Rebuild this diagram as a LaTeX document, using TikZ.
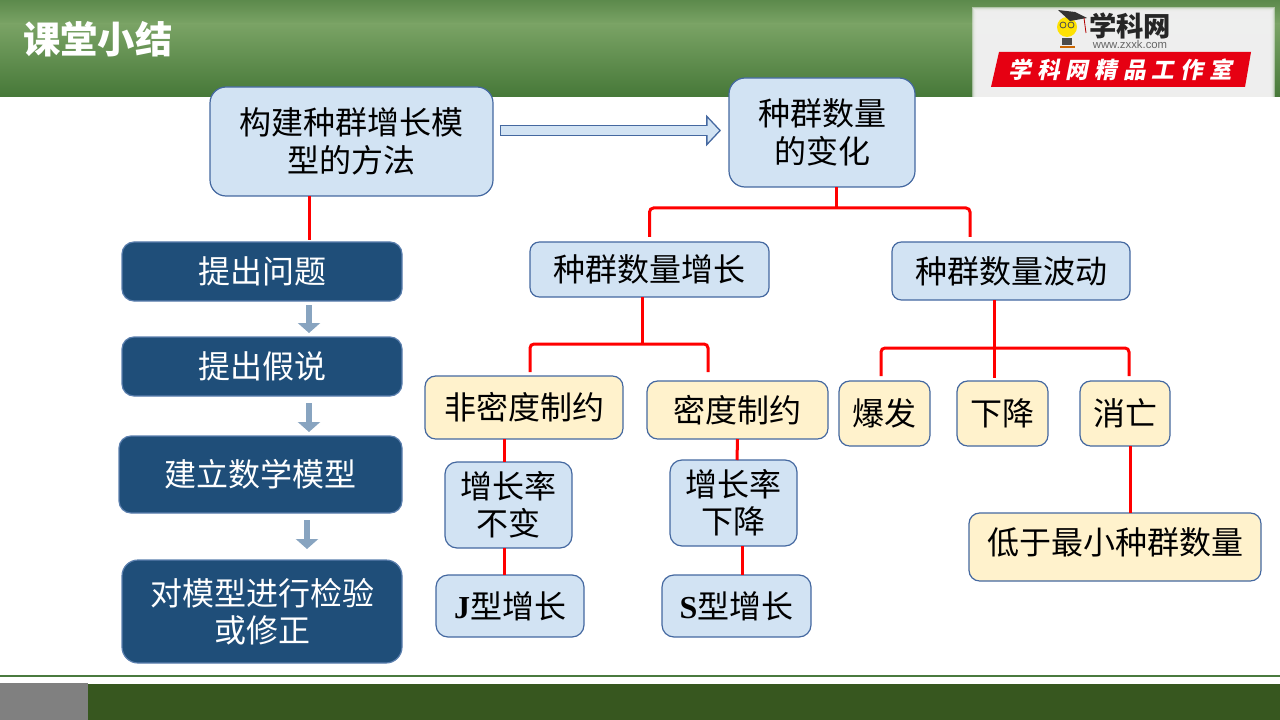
\documentclass[tikz,border=0pt]{standalone}
\usepackage{fontspec}
\setmainfont{Noto Sans CJK SC}
\newfontfamily\latinfont{Liberation Serif}
\newfontfamily\logofont{Liberation Sans}
\usetikzlibrary{arrows.meta}
\usetikzlibrary{positioning}
\definecolor{boxedge}{HTML}{4468A0}
\definecolor{bluefill}{HTML}{D2E3F3}
\definecolor{creamfill}{HTML}{FFF2CC}
\definecolor{darkfill}{HTML}{1F4E79}
\definecolor{darkedge}{HTML}{5B7FAE}
\definecolor{stepgray}{HTML}{88A4C0}
\definecolor{headtop}{HTML}{5C8A4C}
\definecolor{headmid}{HTML}{7AA365}
\definecolor{headlow}{HTML}{467838}
\definecolor{footgreen}{HTML}{37571F}
\definecolor{footline}{HTML}{4A7A3F}
\definecolor{logored}{HTML}{E60012}
\definecolor{logopaper}{HTML}{F0F0F0}

\begin{document}
\begin{tikzpicture}[x=0.75pt,y=-0.75pt,
    box/.style={draw=boxedge,line width=0.9pt,inner sep=0pt,outer sep=0pt,align=center,
      font=\fontsize{24pt}{28pt}\selectfont,text=black},
    bluebox/.style={box,fill=bluefill,rounded corners=9pt},
    creambox/.style={box,fill=creamfill,rounded corners=8pt},
    darkbox/.style={box,draw=darkedge,fill=darkfill,text=white,rounded corners=9pt},
    redline/.style={draw=red,line width=2.25pt},
    redbracket/.style={redline,rounded corners=3pt},
    stepline/.style={draw=stepgray,line width=5pt,
      -{Triangle[length=7.5pt,width=16.5pt]}},
    flowouter/.style={draw=boxedge,line width=8.6pt,
      -{Triangle[length=11.25pt,width=23.25pt]}},
    flowinner/.style={draw=bluefill,line width=6.4pt,shorten <=1.1pt,shorten >=1.5pt,
      -{Triangle[length=8.6pt,width=17.8pt]}}]

      \useasboundingbox (0,0) rectangle (1280,720);

      % header and footer
      \shade[top color=headtop,bottom color=headmid] (0,0) rectangle (1280,24);
      \shade[top color=headmid,bottom color=headlow] (0,24) rectangle (1280,97);
      \node (title) [anchor=west,inner sep=0pt,text=white,font=\fontsize{28pt}{30pt}\selectfont\bfseries] at (23,39) {课堂小结};
      \fill[footline] (0,675) rectangle (1280,677);
      \fill[footgreen] (88,684) rectangle (1280,720);
      \fill[gray] (0,683) rectangle (88,720);

      % logo
      \foreach \d in {0,1,2,3,4,5}
        \fill[logopaper,opacity=0.55] (972+\d,7+\d) rectangle (1275-\d,97);
      \fill[logored] (999,52) -- (1251,52) -- (1245,87) -- (991,87) -- cycle;
      \fill[yellow!85!orange] (1067,27) circle (10);
      \draw[black!70,line width=0.6pt] (1063,25) circle (3) (1071,25) circle (3);
      \fill[black!80] (1058,10) -- (1075,12) -- (1087,18) -- (1070,21) -- cycle;
      \draw[red!70!black,line width=0.6pt] (1084,18) -- (1086,33);
      \fill[black!70] (1062,38) rectangle (1072,45);
      \fill[orange!80!black] (1060,46) rectangle (1075,48);
      \node (logoname) [inner sep=0pt,text=black!85,font=\fontsize{20.5pt}{22pt}\selectfont\bfseries] at (1130,26) {学科网};
      \node (logourl) [inner sep=0pt,text=black!60,font=\logofont\fontsize{8.5pt}{9pt}\selectfont] at (1130,44) {www.zxxk.com};
      \node (logotext) [inner sep=0pt,text=white,xslant=0.2,transform shape,
        font=\fontsize{17pt}{18pt}\selectfont\bfseries] at (1122,70)
        {学\hspace{4.5pt}科\hspace{4.5pt}网\hspace{4.5pt}精\hspace{4.5pt}品\hspace{4.5pt}工\hspace{4.5pt}作\hspace{4.5pt}室};

      % left column
      \node (build) [bluebox,minimum width=212.25pt,minimum height=81.75pt,rounded corners=12pt] at (351.5,141.5) {构建种群增长模\\型的方法};
      \node (ask) [darkbox,minimum width=210pt,minimum height=44.25pt] at (262,271.5) {提出问题};
      \node (guess) [darkbox,minimum width=210pt,minimum height=44.25pt,below=27pt of ask] {提出假说};
      \node (model) [darkbox,minimum width=212.25pt,minimum height=57.75pt,below=30pt of guess,xshift=-1.125pt] {\raisebox{-2.4pt}{建立数学模型}};
      \node (test) [darkbox,minimum width=210pt,minimum height=77.25pt,below=35.25pt of model,xshift=1.125pt,rounded corners=12pt] {对模型进行检验\\或修正};

      % right tree
      \node (change) [bluebox,minimum width=139.5pt,minimum height=81.75pt,rounded corners=12pt] at (822,132.5) {种群数量\\的变化};
      \node (grow) [bluebox,minimum width=179.25pt,minimum height=41.25pt,rounded corners=7pt] at (649.5,269.5) {种群数量增长};
      \node (wave) [bluebox,minimum width=178.5pt,minimum height=43.5pt,rounded corners=7pt,right=92.25pt of grow.north east,anchor=north west] {种群数量波动};
      \node (nonden) [creambox,minimum width=148.5pt,minimum height=47.25pt] at (524,407.5) {非密度制约};
      \node (den) [creambox,minimum width=135.75pt,minimum height=43.5pt,right=18pt of nonden.south east,anchor=south west] {密度制约};
      \node (keep) [bluebox,minimum width=95.25pt,minimum height=64.5pt,below=17.25pt of nonden,xshift=-11.625pt] {增长率\\不变};
      \node (jgrow) [bluebox,minimum width=111pt,minimum height=46.5pt,below=20.25pt of keep,xshift=1.125pt] {{\latinfont\bfseries J}型增长};
      \node (drop) [bluebox,minimum width=95.25pt,minimum height=64.5pt,below=15.75pt of den,xshift=-3pt] {增长率\\下降};
      \node (sgrow) [bluebox,minimum width=111.75pt,minimum height=46.5pt,below=21.75pt of drop,xshift=2.25pt] {{\latinfont\bfseries S}型增长};
      \node (burst) [creambox,minimum width=68.25pt,minimum height=48.75pt] at (884.5,413.5) {爆发};
      \node (fall) [creambox,minimum width=68.25pt,minimum height=48.75pt,right=20.25pt of burst] {下降};
      \node (vanish) [creambox,minimum width=67.5pt,minimum height=48.75pt,right=24pt of fall] {消亡};
      \node (low) [creambox,minimum width=219pt,minimum height=51pt,below=50.25pt of vanish,xshift=-7.5pt] {\raisebox{9pt}{低于最小种群数量}};

      % connectors
      \coordinate (flowend) at (change.west |- 0,130.5);
      \coordinate (flowstart) at (build.east |- 0,130.5);
      \draw[flowouter] ([xshift=5pt]flowstart) -- ([xshift=-6pt]flowend);
      \draw[flowinner] ([xshift=5pt]flowstart) -- ([xshift=-6pt]flowend);

      \path
        ([xshift=35.25pt]ask.south) edge [stepline,shorten <=3pt,shorten >=3pt] ([xshift=35.25pt]guess.north)
        ([xshift=35.25pt]guess.south) edge [stepline,shorten <=5.25pt,shorten >=3pt] ([xshift=36.375pt]model.north)
        ([xshift=34.875pt]model.south) edge [stepline,shorten <=5.25pt,shorten >=8.25pt] ([xshift=33.75pt]test.north);

      \path[redline]
        ([xshift=-31.875pt]build.south) edge [shorten >=1.5pt] ([xshift=35.25pt]ask.north)
        ([xshift=-15pt]nonden.south) edge ([xshift=-3.375pt]keep.north)
        ([xshift=-3.375pt]keep.south) edge ([xshift=-4.5pt]jgrow.north)
        ([xshift=0pt]den.south) edge ([xshift=2.625pt]drop.north)
        ([xshift=6.375pt]drop.south) edge ([xshift=4.125pt]sgrow.north)
        ([xshift=3.75pt]vanish.south) edge ([xshift=11.25pt]low.north)
        ([xshift=-12.75pt]wave.south) edge [shorten >=2.25pt] ([xshift=-6.375pt]fall.north);

      \draw[redline] ([xshift=10.5pt]change.south) -- ++(0,21);
      \draw[redbracket,shorten <=3.75pt,shorten >=3.75pt]
        (grow.north) -- ++(0,-34) -| ([xshift=-30.75pt]wave.north);
      \draw[redline] ([xshift=-5.625pt]grow.south) -- ++(0,47);
      \draw[redbracket,shorten <=3pt,shorten >=6.75pt]
        ([xshift=4.5pt]nonden.north) -- ++(0,-32) -| ([xshift=-22.125pt]den.north);
      \draw[redbracket,shorten <=3.75pt,shorten >=3.75pt]
        ([xshift=-2.625pt]burst.north) -- ++(0,-33) -| ([xshift=3pt]vanish.north);
    \end{tikzpicture}
\end{document}
